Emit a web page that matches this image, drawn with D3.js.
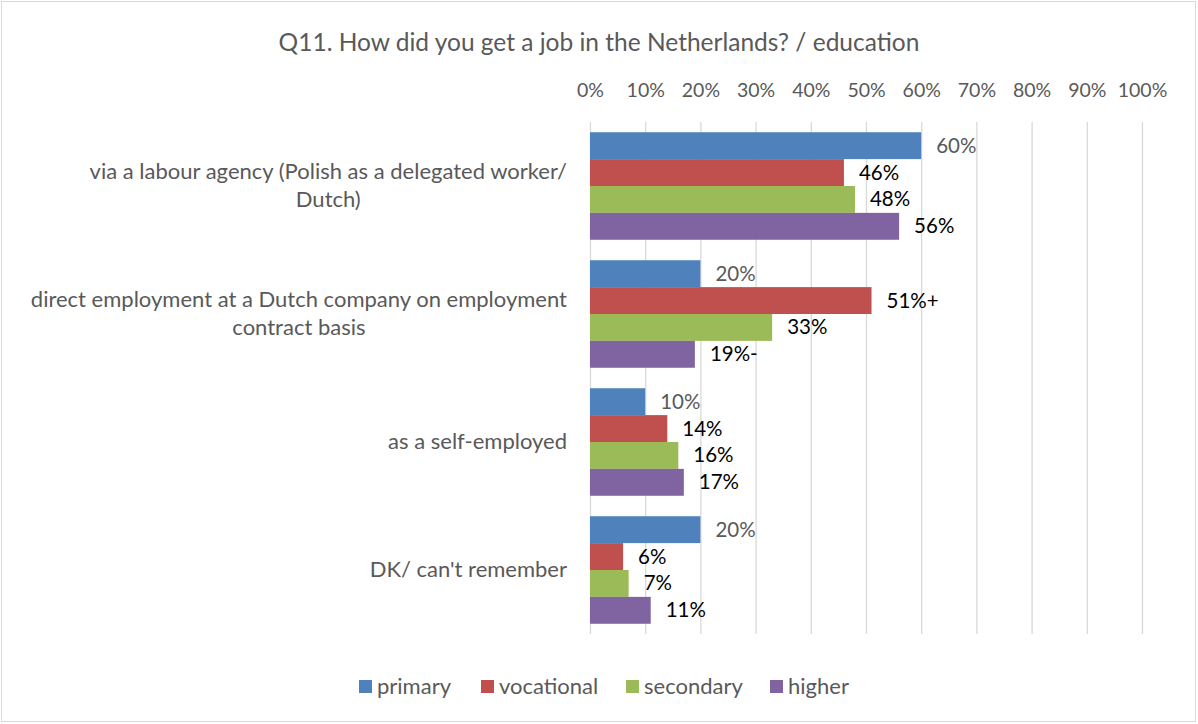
<!DOCTYPE html>
<html>
<head>
<meta charset="utf-8">
<script src="https://cdn.jsdelivr.net/npm/d3@7"></script>
<style>
  body { margin: 0; background: #fff; }
  svg text { font-family: Lato, "Open Sans", sans-serif; }
</style>
</head>
<body>
<svg id="chart"></svg>
<script>
const WIDTH  = 1198;
const HEIGHT = 724;

const title = 'Q11. How did you get a job in the Netherlands? / education';

// each category is kept with its line breaks as shown in the picture
const categories = [
  ['via a labour agency (Polish as a delegated worker/', 'Dutch)'],
  ['direct employment at a Dutch company on employment', 'contract basis'],
  ['as a self-employed'],
  ['DK/ can\'t remember']
];

const seriesNames = ['primary', 'vocational', 'secondary', 'higher'];
const colors      = ['#4F81BD', '#C0504D', '#9BBB59', '#8064A2'];

const primary    = [60, 20, 10, 20];
const vocational = [46, 51, 14, 6];
const secondary  = [48, 33, 16, 7];
const higher     = [56, 19, 17, 11];

// significance marks appended to the data labels
const primaryMarks    = ['', '', '', ''];
const vocationalMarks = ['', '+', '', ''];
const secondaryMarks  = ['', '', '', ''];
const higherMarks     = ['', '-', '', ''];

const ticks = [0, 10, 20, 30, 40, 50, 60, 70, 80, 90, 100];

const seriesValues = [primary, vocational, secondary, higher];
const seriesMarks  = [primaryMarks, vocationalMarks, secondaryMarks, higherMarks];

const svg = d3.select('#chart')
  .attr('width', WIDTH)
  .attr('height', HEIGHT);

// chart frame
svg.append('rect')
  .attr('x', 1.5).attr('y', 1.5)
  .attr('width', WIDTH - 4).attr('height', HEIGHT - 4)
  .attr('fill', '#fff')
  .attr('stroke', '#D9D9D9');

svg.append('text')
  .attr('x', 599).attr('y', 51)
  .attr('text-anchor', 'middle')
  .attr('font-size', 24.5)
  .attr('fill', '#595959')
  .text(title);

const x = d3.scaleLinear().domain([0, 100]).range([590, 1142]);

const y = d3.scaleBand()
  .domain(d3.range(categories.length))
  .range([122, 634])
  .paddingInner(0.16)
  .paddingOuter(0.08);

const ySeries = d3.scaleBand()
  .domain(d3.range(seriesNames.length))
  .range([0, y.bandwidth()]);

// gridlines + top axis labels
const axis = svg.append('g')
  .attr('transform', 'translate(0,122)')
  .call(d3.axisTop(x).tickValues(ticks).tickSize(-512).tickFormat(d => d + '%'));
axis.select('.domain').remove();
axis.selectAll('.tick line').attr('stroke', '#D9D9D9').attr('stroke-width', 1.3);
axis.selectAll('.tick text')
  .attr('y', -25)
  .attr('font-size', 19.5)
  .attr('fill', '#595959');

// category labels
const catGroups = svg.selectAll('.cat')
  .data(categories)
  .enter().append('text')
    .attr('class', 'cat')
    .attr('text-anchor', 'middle')
    .attr('font-size', 22)
    .attr('fill', '#595959');

catGroups.each(function(lines, i) {
  const t = d3.select(this);
  const cy = y(i) + y.bandwidth() / 2;
  const lh = 28;
  lines.forEach((line, j) => {
    t.append('tspan')
      .attr('y', cy + (j - (lines.length - 1) / 2) * lh + 7)
      .text(line);
  });
  // centre the lines within the widest one, right edge at 567
  let maxW = 0;
  t.selectAll('tspan').each(function() { maxW = Math.max(maxW, this.getComputedTextLength()); });
  t.selectAll('tspan').attr('x', 567 - maxW / 2);
});

// bars
const series = svg.selectAll('.series')
  .data(seriesValues)
  .enter().append('g')
    .attr('class', 'series')
    .attr('fill', (d, s) => colors[s]);

series.each(function(values, s) {
  const g = d3.select(this);
  g.selectAll('rect')
    .data(values)
    .enter().append('rect')
      .attr('x', x(0))
      .attr('y', (d, i) => y(i) + ySeries(s))
      .attr('width', d => x(d) - x(0))
      .attr('height', ySeries.bandwidth());

  g.selectAll('text')
    .data(values)
    .enter().append('text')
      .attr('x', d => x(d) + 15)
      .attr('y', (d, i) => y(i) + ySeries(s) + ySeries.bandwidth() / 2 + 7)
      .attr('font-size', 20.5)
      .attr('fill', s === 0 ? '#595959' : '#000')
      .text((d, i) => d + '%' + seriesMarks[s][i]);
});

// legend
const legendX = [359, 481, 626, 770];
const legend = svg.selectAll('.legend')
  .data(seriesNames)
  .enter().append('g')
    .attr('class', 'legend')
    .attr('transform', (d, i) => `translate(${legendX[i]},686)`);

legend.append('rect')
  .attr('x', 0).attr('y', -6)
  .attr('width', 13).attr('height', 13)
  .attr('fill', (d, i) => colors[i]);

legend.append('text')
  .attr('x', 18).attr('y', 8)
  .attr('font-size', 22)
  .attr('fill', '#595959')
  .text(d => d);
</script>
</body>
</html>
